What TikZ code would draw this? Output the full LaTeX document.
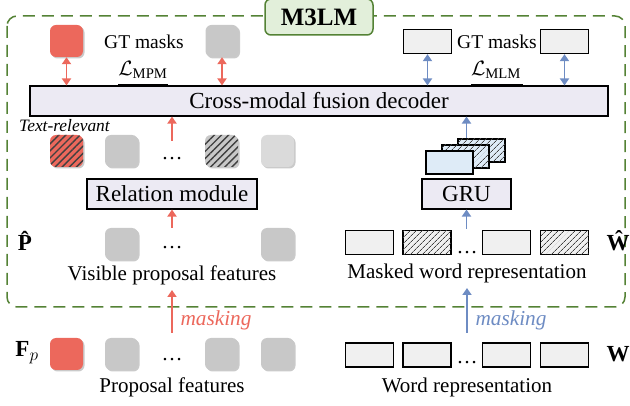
\documentclass[tikz,border=0pt]{standalone}
\usepackage{amsmath}
\usepackage{fontspec}
\setmainfont{Liberation Serif}
\setmathrm{Liberation Serif}
\usetikzlibrary{patterns.meta,shadows,arrows.meta}
\definecolor{myred}{RGB}{236,104,92}
\definecolor{mygray}{RGB}{200,200,200}
\definecolor{mylgray}{RGB}{218,218,218}
\definecolor{myblue}{RGB}{110,140,195}
\definecolor{mygreen}{RGB}{84,130,53}
\definecolor{mygreenfill}{RGB}{226,239,218}
\definecolor{lav}{RGB}{236,234,243}
\definecolor{wordfill}{RGB}{240,240,240}
\definecolor{lblue}{RGB}{222,235,247}
\begin{document}
\begin{tikzpicture}[x=1pt,y=-1pt,
  feat/.style={minimum width=33pt, minimum height=32pt, rounded corners=6pt, inner sep=0pt,
    drop shadow={shadow xshift=1.5pt,shadow yshift=-1.5pt,opacity=0.35,fill=black!60}},
  redf/.style={feat, fill=myred},
  grayf/.style={feat, fill=mygray},
  lgrayf/.style={feat, fill=mylgray},
  hatchsq/.style={postaction={pattern={Lines[angle=45,distance=5pt,line width=1.4pt]},pattern color=black!75}},
  word/.style={draw=black, line width=1.3pt, fill=wordfill, minimum width=48pt, minimum height=24pt, inner sep=0pt},
  whatch/.style={postaction={pattern={Lines[angle=45,distance=4pt,line width=0.7pt]},pattern color=black!75}},
  stackr/.style={draw=black, line width=1.3pt, fill=lblue, minimum width=47pt, minimum height=23pt, inner sep=0pt},
  modbox/.style={draw=black, line width=1.1pt, fill=lav, inner sep=0pt, font=\fontsize{23}{25}\selectfont},
  tip/.style={},
  rarr/.style={-{Triangle[length=7pt,width=9pt]}, myred, line width=1.8pt},
  barr/.style={-{Triangle[length=7pt,width=9pt]}, myblue, line width=1.8pt},
  rdbl/.style={{Triangle[length=7pt,width=9pt]}-{Triangle[length=7pt,width=9pt]}, myred, line width=1.8pt},
  bdbl/.style={{Triangle[length=7pt,width=9pt]}-{Triangle[length=7pt,width=9pt]}, myblue, line width=1.8pt},
  lab/.style={font=\fontsize{21}{23}\selectfont},
  gtlab/.style={font=\fontsize{19.5}{21}\selectfont},
  dotsn/.style={font=\fontsize{21}{23}\selectfont, anchor=base, inner sep=0pt},
  mathlab/.style={font=\fontsize{23}{25}\selectfont\bfseries, inner sep=0pt}
]
\useasboundingbox (0,0) rectangle (630,406);

% frame
\draw[mygreen, line width=1.5pt, dash pattern=on 12pt off 7pt, rounded corners=10pt] (7,16) rectangle (625,307);
\node[draw=mygreen, fill=mygreenfill, line width=1.5pt, rounded corners=6pt, minimum width=108pt, minimum height=36pt, inner sep=0pt, font=\fontsize{25}{27}\selectfont\bfseries] (title) at (319,17) {M3LM};

% decoder
\node[modbox, minimum width=578pt, minimum height=30pt] (dec) at (319,101) {Cross-modal fusion decoder};

% top GT row, left
\node[redf] (gt1) at (66.5,41) {};
\node[grayf] (gt2) at (222,41) {};
\node[gtlab] (gtl) at (144,42) {GT masks};
\node[font=\fontsize{21}{23}\selectfont] (lmpm) at (143,70) {$\mathcal{L}_{\text{MPM}}$};
\draw[line width=1.5pt] (118,85) -- (168,85);
\draw[rdbl] (gt1.south) -- (gt1.south |- dec.north);
\draw[rdbl] (gt2.south) -- (gt2.south |- dec.north);

% top GT row, right
\node[word] (gw1) at (427.5,41.5) {};
\node[word] (gw2) at (564.5,41.5) {};
\node[gtlab] (gtr) at (497,42) {GT masks};
\node[font=\fontsize{21}{23}\selectfont] (lmlm) at (496,70) {$\mathcal{L}_{\text{MLM}}$};
\draw[line width=1.5pt] (471,85) -- (523,85);
\draw[bdbl] (gw1.south) -- (gw1.south |- dec.north);
\draw[bdbl] (gw2.south) -- (gw2.south |- dec.north);

% text-relevant row
\node[font=\fontsize{17.4}{19}\selectfont\itshape, anchor=west, inner sep=0pt] (trl) at (19,126) {Text-relevant};
\node[redf, hatchsq] (m1) at (66.5,151) {};
\node[grayf] (m2) at (121.5,151) {};
\node[dotsn] (md) at (172,159.5) {\ldots};
\node[grayf, hatchsq] (m3) at (221.5,151) {};
\node[lgrayf] (m4) at (277.5,151) {};
\coordinate (mtop) at (172,141);
\draw[rarr] (mtop) -- (mtop |- dec.south);

% relation module
\node[modbox, minimum width=170pt, minimum height=30pt] (rel) at (172,194) {Relation module};

% visible proposal row
\node[mathlab, anchor=base] (ph) at (25,251) {\^{P}};
\node[grayf] (v1) at (121.5,244) {};
\node[dotsn] (vd) at (172,248.5) {\ldots};
\node[grayf] (v2) at (277.5,244) {};
\node[lab] (vpf) at (172,275) {Visible proposal features};
\coordinate (vtop) at (172,228);
\draw[rarr] (vtop) -- (vtop |- rel.south);

% GRU stack
\node[stackr, whatch] (s3) at (481.5,150.5) {};
\node[stackr, whatch] (s2) at (465.5,156.5) {};
\node[stackr] (s1) at (449.5,162.5) {};
\node[modbox, minimum width=89pt, minimum height=30pt] (gru) at (466.5,194) {GRU};
\draw[barr] (s3.north -| gru.north) -- (gru.north |- dec.south);

% masked word row
\node[word] (w1) at (369.5,242.5) {};
\node[word, whatch] (w2) at (427,242.5) {};
\node[dotsn] (wd) at (467,253.5) {\ldots};
\node[word] (w3) at (506.5,242.5) {};
\node[word, whatch] (w4) at (564.5,242.5) {};
\node[mathlab, anchor=base] (wh) at (618,251) {\^{W}};
\node[lab] (mwr) at (467,273) {Masked word representation};
\coordinate (wtop) at (466.5,229);
\draw[barr] (wtop) -- (wtop |- gru.south);

% masking arrows
\coordinate (pm) at (172,333);
\coordinate (pmt) at (172,290);
\draw[rarr] (pm) -- (pmt);
\node[font=\fontsize{21.3}{23}\selectfont\itshape, text=myred] (mk1) at (216,320) {masking};
\coordinate (wm) at (467,333);
\coordinate (wmt) at (467,288);
\draw[barr] (wm) -- (wmt);
\node[font=\fontsize{21.3}{23}\selectfont\itshape, text=myblue] (mk2) at (511,320) {masking};

% bottom row left
\node[font=\fontsize{23}{25}\selectfont] (fp) at (27,353) {$\mathbf{F}_{p}$};
\node[redf] (b1) at (66.5,354) {};
\node[grayf] (b2) at (121.5,354) {};
\node[dotsn] (bd) at (172,360.5) {\ldots};
\node[grayf] (b3) at (221.5,354) {};
\node[grayf] (b4) at (277.5,354) {};
\node[lab] (pfl) at (172,387) {Proposal features};

% bottom row right
\node[word] (x1) at (369.5,355) {};
\node[word] (x2) at (427,355) {};
\node[dotsn] (xd) at (467,364) {\ldots};
\node[word] (x3) at (506.5,355) {};
\node[word] (x4) at (564.5,355) {};
\node[mathlab] (wb) at (618,354) {W};
\node[lab] (wrl) at (467,387) {Word representation};
\end{tikzpicture}
\end{document}
